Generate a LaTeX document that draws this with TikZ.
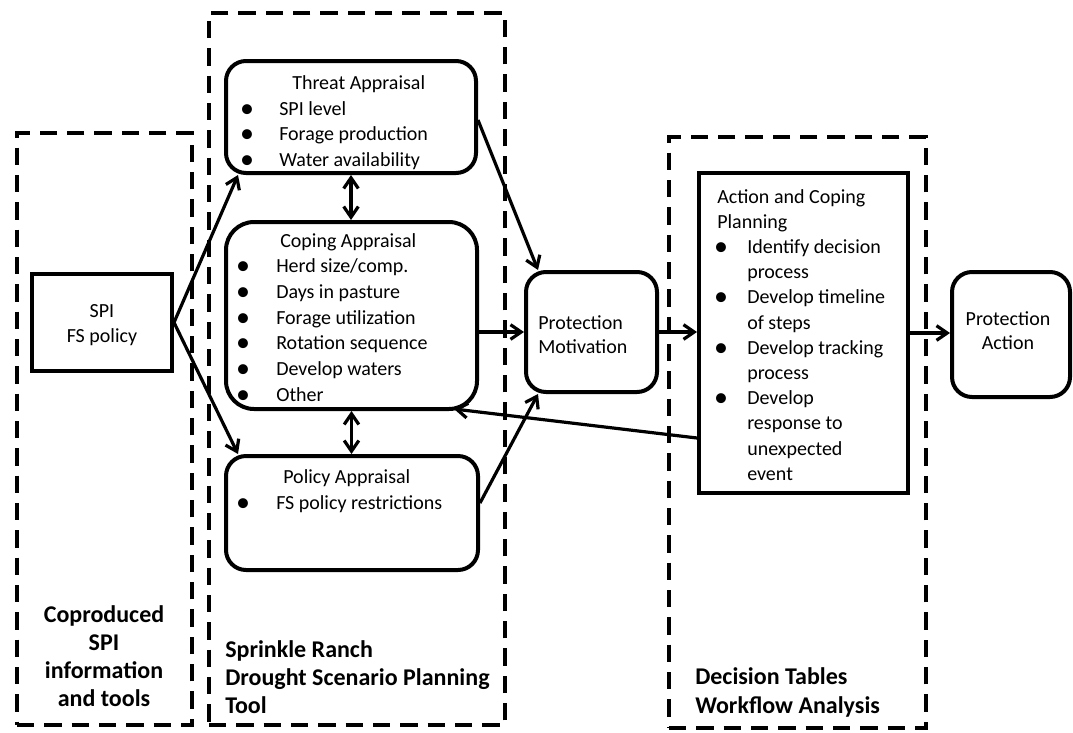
\documentclass[tikz,border=0pt]{standalone}
\usepackage{fontspec}
\setmainfont{Carlito}
\usetikzlibrary{arrows.meta,fit,calc}
\begin{document}
\begin{tikzpicture}[x=0.75pt,y=-0.75pt,
  dashbox/.style={draw, line width=3.5pt, dash pattern=on 13pt off 7.5pt, inner sep=0pt},
  rbox/.style={draw, line width=3pt, rounded corners=15pt, inner sep=0pt},
  sbox/.style={draw, line width=3pt, inner sep=0pt},
  txt/.style={inner sep=0pt, anchor=base west, font=\fontsize{15}{18}\selectfont},
  ctxt/.style={inner sep=0pt, anchor=base, font=\fontsize{15}{18}\selectfont},
  btxt/.style={inner sep=0pt, anchor=base west, font=\fontsize{18}{22}\selectfont\bfseries},
  bctxt/.style={inner sep=0pt, anchor=base, font=\fontsize{18}{22}\selectfont\bfseries},
  bul/.style={inner sep=0pt, anchor=base, font=\fontsize{21}{22}\selectfont},
  conn/.style={line width=2.4pt, -{Straight Barb[length=8pt,width=11pt]}},
  dconn/.style={line width=2.4pt, {Straight Barb[length=8pt,width=11pt]}-{Straight Barb[length=8pt,width=11pt]}}
]
\useasboundingbox (0,0) rectangle (1073,732);

% group frames
\node[dashbox, fit={(17,133) (192,725)}] (g1) {};
\node[dashbox, fit={(209,13) (505,725)}] (g2) {};
\node[dashbox, fit={(669,137) (926,728)}] (g3) {};

% boxes
\node[sbox, fit={(32,274) (172,371)}] (spi) {};
\node[rbox, fit={(226,61) (476,173)}] (thr) {};
\node[rbox, rounded corners=21pt, fit={(226,222) (477,409)}] (cop) {};
\node[rbox, fit={(226,456) (478,570)}] (pol) {};
\node[rbox, fit={(526,272) (657,392)}] (pm) {};
\node[sbox, fit={(699,173) (908,493)}] (act) {};
\node[rbox, fit={(952,272) (1070,397)}] (pa) {};

% SPI box text
\node[ctxt] (spi1) at (102,317) {SPI};
\node[ctxt] (spi2) at (102,342) {FS policy};

% Threat appraisal
\node[txt] (thrT) at (292,89) {Threat Appraisal};
\foreach \y/\t [count=\i] in {115/SPI level, 140.5/Forage production, 166/Water availability}{
  \node[bul] (thrB\i) at (247,\y+2) {•};
  \node[txt] (thrI\i) at (279,\y) {\t};
}

% Coping appraisal
\node[txt] (copT) at (280,247) {Coping Appraisal};
\foreach \y/\t [count=\i] in {272.5/Herd size\slash comp., 298.2/Days in pasture, 324/Forage utilization, 349.7/Rotation sequence, 375.4/Develop waters, 401/Other}{
  \node[bul] (copB\i) at (243,\y+2) {•};
  \node[txt] (copI\i) at (276,\y) {\t};
}

% Policy appraisal
\node[txt] (polT) at (283,483) {Policy Appraisal};
\node[bul] (polB1) at (243,511) {•};
\node[txt] (polI1) at (276,509) {FS policy restrictions};

% Protection motivation
\node[txt] (pm1) at (538,329) {Protection};
\node[txt] (pm2) at (538,353) {Motivation};

% Action and coping planning
\node[txt] (actT1) at (717,203) {Action and Coping};
\node[txt] (actT2) at (717,228.2) {Planning};
\foreach \y [count=\i] in {253.4, 303.8, 354.2, 404.6}{
  \node[bul] (actB\i) at (721,\y+2) {•};
}
\foreach \y/\t [count=\i] in {253.4/Identify decision, 278.6/process, 303.8/Develop timeline, 329/of steps, 354.2/Develop tracking, 379.4/process, 404.6/Develop, 429.8/response to, 455/unexpected, 480.2/event}{
  \node[txt] (actI\i) at (747,\y) {\t};
}

% Protection action
\node[ctxt] (pa1) at (1008,325) {Protection};
\node[ctxt] (pa2) at (1008,349) {Action};

% group labels
\node[bctxt] (l11) at (104,622) {Coproduced};
\node[bctxt] (l12) at (104,650) {SPI};
\node[bctxt] (l13) at (104,678) {information};
\node[bctxt] (l14) at (104,706) {and tools};
\node[btxt] (l21) at (225,657) {Sprinkle Ranch};
\node[btxt] (l22) at (225,685) {Drought Scenario Planning};
\node[btxt] (l23) at (225,713) {Tool};
\node[btxt] (l31) at (695,684) {Decision Tables};
\node[btxt] (l32) at (695,713) {Workflow Analysis};

% connectors
\draw[conn] (spi.east) -- ($(thr.south west)+(14,0)$);
\draw[conn] (spi.east) -- ($(pol.north west)+(14,0)$);
\draw[dconn] (thr.south) -- (thr.south |- cop.north);
\draw[dconn] (cop.south) -- (cop.south |- pol.north);
\draw[conn] ($(thr.east)+(0,3)$) -- ($(pm.north west)+(14,0)$);
\draw[conn] (cop.east |- pm.west) -- (pm.west);
\draw[conn] ($(pol.east)+(0,-10)$) -- ($(pm.south west)+(14,0)$);
\draw[conn] (pm.east) -- (act.west |- pm.east);
\draw[conn] (act.east) -- (pa.west |- act.east);
\draw[conn] ($(act.west)+(0,105)$) -- ($(cop.south east)+(-25,-2)$);
\end{tikzpicture}
\end{document}
